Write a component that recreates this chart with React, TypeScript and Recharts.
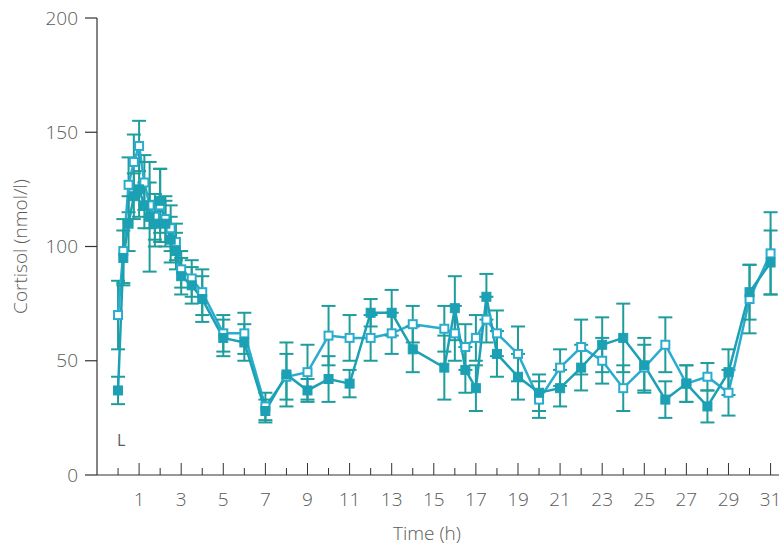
import React from 'react';
import { ComposedChart, Line, XAxis, YAxis, ErrorBar, ReferenceDot } from 'recharts';

const times = [0, 0.25, 0.5, 0.75, 1, 1.25, 1.5, 1.75, 2, 2.25, 2.5, 2.75, 3, 3.5, 4, 5, 6, 7, 8, 9, 10, 11, 12, 13, 14, 15.5, 16, 16.5, 17, 17.5, 18, 19, 20, 21, 22, 23, 24, 25, 26, 27, 28, 29, 30, 31];
const openValues = [70, 98, 127, 137, 144, 128, 118, 113, 118, 112, 108, 102, 90, 86, 80, 62, 62, 30, 43, 45, 61, 60, 60, 62, 66, 64, 62, 56, 60, 68, 62, 53, 33, 47, 56, 50, 38, 47, 57, 40, 43, 36, 77, 97];
const openErrors = [15, 14, 12, 12, 11, 12, 10, 10, 16, 10, 10, 8, 8, 8, 10, 8, 9, 6, 10, 12, 13, 10, 10, 9, 8, 10, 12, 10, 10, 10, 10, 12, 8, 8, 12, 10, 10, 10, 12, 8, 6, 10, 15, 18];
const filledValues = [37, 95, 110, 122, 125, 118, 113, 110, 120, 110, 103, 98, 87, 83, 77, 60, 58, 28, 44, 37, 42, 40, 71, 71, 55, 47, 73, 46, 38, 78, 53, 43, 36, 38, 47, 57, 60, 48, 33, 40, 30, 45, 80, 93];
const filledErrors = [6, 12, 12, 10, 12, 10, 24, 10, 14, 10, 10, 8, 8, 8, 10, 8, 8, 5, 14, 5, 10, 6, 6, 10, 10, 14, 14, 10, 10, 10, 10, 10, 8, 8, 10, 12, 15, 12, 8, 8, 7, 10, 12, 14];
const yTicks = [0, 50, 100, 150, 200];
const xTicks = [0, 1, 2, 3, 4, 5, 6, 7, 8, 9, 10, 11, 12, 13, 14, 15, 16, 17, 18, 19, 20, 21, 22, 23, 24, 25, 26, 27, 28, 29, 30, 31];

const data = times.map((t, i) => ({
  t,
  a: openValues[i],
  aErr: openErrors[i],
  b: filledValues[i],
  bErr: filledErrors[i],
}));

const FONT = "'Open Sans', 'DejaVu Sans', sans-serif";
const TEXT = '#5a5a5a';
const AXIS = '#333';
const OPEN_COLOR = '#2aaccf';
const FILLED_COLOR = '#1ba0b4';
const ERR_COLOR = '#1f9d9c';

const XTick = (props: any) => {
  const { x, y, payload } = props;
  const v = payload.value;
  const odd = v % 2 === 1;
  return (
    <g>
      <line x1={x} x2={x} y1={y} y2={y - (odd ? 12 : 7)} stroke={AXIS} strokeWidth={1} />
      {odd && (
        <text x={x} y={y + 31} textAnchor="middle" fill={TEXT} fontSize={19} fontFamily={FONT} fontWeight={300}>
          {v}
        </text>
      )}
    </g>
  );
};

const OpenSquare = (p: any) => {
  if (p.cx == null || p.cy == null) return <g key={p.index} />;
  return (
    <rect key={`o${p.index}`} x={p.cx - 4} y={p.cy - 4} width={8} height={8} fill="#fff" stroke={OPEN_COLOR} strokeWidth={2} />
  );
};

const FilledSquare = (p: any) => {
  if (p.cx == null || p.cy == null) return <g key={p.index} />;
  return (
    <rect key={`f${p.index}`} x={p.cx - 4.5} y={p.cy - 4.5} width={9} height={9} fill={FILLED_COLOR} stroke={FILLED_COLOR} strokeWidth={1} />
  );
};

export default function App() {
  return (
    <div style={{ position: 'absolute', left: 0, top: 0, width: 781, height: 548, background: '#fff' }}>
      <ComposedChart width={781} height={548} data={data} margin={{ top: 18, right: 2, bottom: 0, left: 0 }}>
        <XAxis
          type="number"
          dataKey="t"
          domain={[-1, 31.4]}
          ticks={xTicks}
          interval={0}
          tick={<XTick />}
          tickLine={false}
          tickSize={0}
          tickMargin={0}
          height={73}
          axisLine={{ stroke: AXIS, strokeWidth: 1.2 }}
          allowDataOverflow
          label={{ value: 'Time (h)', position: 'insideBottom', offset: 8, dx: -11, fill: TEXT, fontSize: 19, fontFamily: FONT, fontWeight: 300 }}
        />
        <YAxis
          type="number"
          domain={[0, 200]}
          ticks={yTicks}
          interval={0}
          width={97}
          tickSize={12}
          tickMargin={7}
          tickLine={{ stroke: AXIS, strokeWidth: 1.2 }}
          axisLine={{ stroke: AXIS, strokeWidth: 1.2 }}
          tick={{ fill: TEXT, fontSize: 19, fontFamily: FONT, fontWeight: 300 }}
          label={{ value: 'Cortisol (nmol/l)', angle: -90, position: 'insideLeft', offset: 20, fill: TEXT, fontSize: 19, fontFamily: FONT, fontWeight: 300, style: { textAnchor: 'middle' } }}
        />
        <ReferenceDot x={0.15} y={15} r={0} fill="none" stroke="none" isFront={false}
          label={{ value: 'L', position: 'center', fill: TEXT, fontSize: 16, fontFamily: FONT }} />
        <Line
          type="linear"
          dataKey="a"
          stroke={OPEN_COLOR}
          strokeWidth={2.5}
          dot={OpenSquare}
          activeDot={false}
          isAnimationActive={false}
        >
          <ErrorBar dataKey="aErr" width={7} stroke={ERR_COLOR} strokeWidth={2} direction="y" isAnimationActive={false} />
        </Line>
        <Line
          type="linear"
          dataKey="b"
          stroke={FILLED_COLOR}
          strokeWidth={2.5}
          dot={FilledSquare}
          activeDot={false}
          isAnimationActive={false}
        >
          <ErrorBar dataKey="bErr" width={7} stroke={ERR_COLOR} strokeWidth={2} direction="y" isAnimationActive={false} />
        </Line>
      </ComposedChart>
    </div>
  );
}
